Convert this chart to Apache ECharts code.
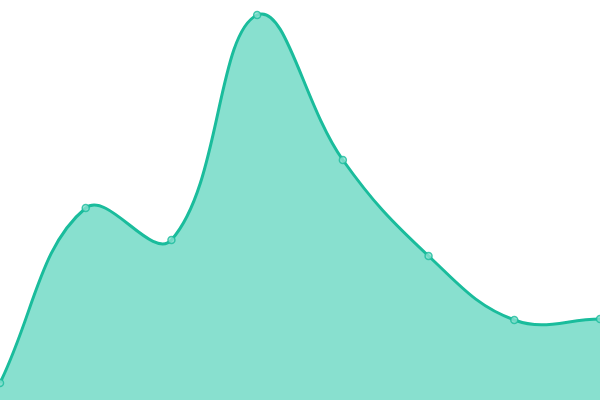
<!DOCTYPE html>
<html><head><meta charset="utf-8">
<script src="https://cdn.jsdelivr.net/npm/echarts@6/dist/echarts.min.js"></script>
<style>html,body{margin:0;padding:0;background:#fff}#c{width:600px;height:400px}</style>
</head><body><div id="c"></div>
<script>
var categories = ['A','B','C','D','E','F','G','H'];
var values = [17, 192, 160, 385, 240, 144, 80, 81];
var TENSION = 0.4;

function splineCps(pts, t) {
  var out = [];
  for (var i = 0; i < pts.length; i++) {
    var cur = pts[i];
    var prev = i > 0 ? pts[i - 1] : cur;
    var next = i < pts.length - 1 ? pts[i + 1] : cur;
    var d01 = Math.hypot(cur[0] - prev[0], cur[1] - prev[1]);
    var d12 = Math.hypot(next[0] - cur[0], next[1] - cur[1]);
    var s01 = d01 / (d01 + d12), s12 = d12 / (d01 + d12);
    if (isNaN(s01)) s01 = 0;
    if (isNaN(s12)) s12 = 0;
    var fa = t * s01, fb = t * s12;
    out.push({
      px: cur[0] - fa * (next[0] - prev[0]),
      py: cur[1] - fa * (next[1] - prev[1]),
      nx: cur[0] + fb * (next[0] - prev[0]),
      ny: cur[1] + fb * (next[1] - prev[1])
    });
  }
  return out;
}

var chart = echarts.init(document.getElementById('c'));
var seriesData = values.map(function (v, i) { return [i, v]; });
chart.setOption({
  animation: false,
  grid: {left: 0, right: 0, top: 0, bottom: 0},
  xAxis: {type: 'category', data: categories, boundaryGap: false, show: false},
  yAxis: {type: 'value', min: 0, max: 400, show: false},
  series: [{
    type: 'custom',
    data: seriesData,
    encode: {x: 0, y: 1},
    z: 2,
    renderItem: function (params, api) {
      if (params.dataIndex !== 0) return null;
      var pts = values.map(function (v, i) { return api.coord([i, v]); });
      var base = api.coord([0, 0])[1];
      var cps = splineCps(pts, TENSION);
      var d = 'M' + pts[0][0] + ' ' + pts[0][1];
      for (var i = 1; i < pts.length; i++) {
        d += ' C' + cps[i - 1].nx + ' ' + cps[i - 1].ny + ' ' + cps[i].px + ' ' + cps[i].py + ' ' + pts[i][0] + ' ' + pts[i][1];
      }
      var last = pts[pts.length - 1];
      var area = d + ' L' + last[0] + ' ' + base + ' L' + pts[0][0] + ' ' + base + ' Z';
      return {
        type: 'group',
        children: [
          {type: 'path', shape: {pathData: area}, style: {fill: '#88e0cf', stroke: null}},
          {type: 'path', shape: {pathData: d}, style: {fill: null, stroke: '#1abc9c', lineWidth: 3}}
        ]
      };
    }
  }, {
    type: 'scatter',
    data: seriesData,
    z: 3,
    symbol: 'circle',
    symbolSize: 7,
    itemStyle: {color: '#88e0cf', borderColor: '#1abc9c', borderWidth: 1.5}
  }]
});
</script></body></html>
